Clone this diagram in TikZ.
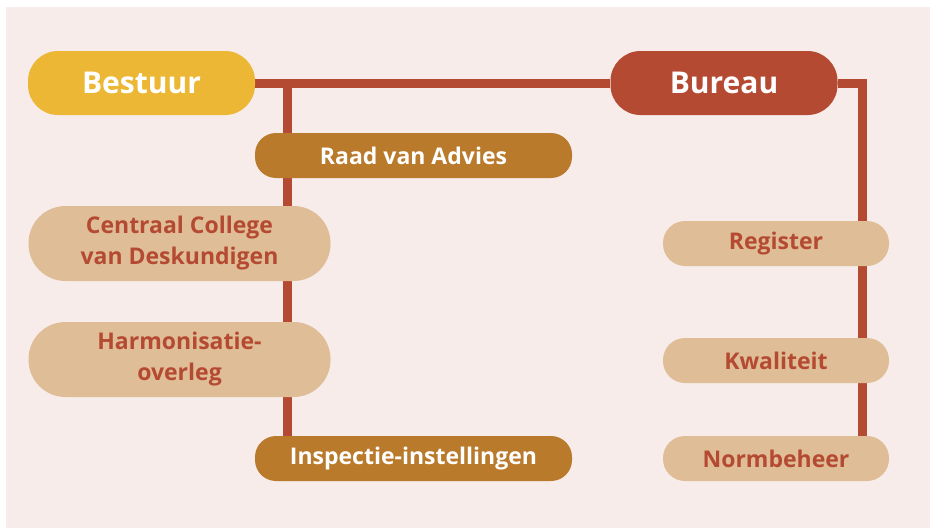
\documentclass[tikz,border=0pt]{standalone}
\usepackage{fontspec}
\setmainfont{Open Sans}
\usetikzlibrary{backgrounds}
\definecolor{achtergrond}{HTML}{F7ECEA}
\definecolor{geel}{HTML}{ECB735}
\definecolor{rood}{HTML}{B54A32}
\definecolor{oker}{HTML}{B97A2C}
\definecolor{zand}{HTML}{DFBD96}
\tikzset{
  hoofd/.style={rounded corners=30pt, minimum width=227pt, minimum height=64pt,
    text=white, font=\fontsize{30}{34}\selectfont\bfseries, inner sep=0pt},
  middel/.style={rounded corners=21pt, minimum width=317pt, minimum height=45pt,
    fill=oker, text=white, font=\fontsize{23}{27}\selectfont\bfseries, inner sep=0pt},
  licht/.style={rounded corners=22pt, fill=zand, text=rood, inner sep=0pt,
    font=\fontsize{23}{31}\selectfont\bfseries, align=center},
  lijn/.style={draw=rood, line width=9pt}
}
\begin{document}
\begin{tikzpicture}[x=1pt, y=-1pt]
\useasboundingbox (0,0) rectangle (930,528);
\node (bestuur)[hoofd, fill=geel] at (141.5,83) {Bestuur};
\node (bureau)[hoofd, fill=rood] at (724,83) {Bureau};
\node (raad)[middel] at (413.5,155.5) {Raad van Advies};
\node (inspectie)[middel] at (413.5,458.5) {Inspectie-instellingen};
\node (college)[licht, rounded corners=37pt, minimum width=302pt, minimum height=75pt] at (179.5,243.5) {Centraal College\\van Deskundigen};
\node (overleg)[licht, rounded corners=37pt, minimum width=302pt, minimum height=75pt] at (179.5,359.5) {Harmonisatie-\\overleg};
\node (register)[licht, minimum width=226pt, minimum height=45pt] at (776,243.5) {Register};
\node (kwaliteit)[licht, minimum width=226pt, minimum height=45pt] at (776,360.5) {Kwaliteit};
\node (normbeheer)[licht, minimum width=226pt, minimum height=45pt] at (776,458.5) {Normbeheer};
\coordinate (stam) at (287,83);
\coordinate (hoek) at (862,83);
\begin{scope}[on background layer]
\fill[achtergrond] (6,7) rectangle (930,528);
\draw[lijn] (bestuur.east) -- (bureau.west);
\draw[lijn] (stam) -- (stam |- inspectie.north);
\draw[lijn] (bureau.east) -- (hoek) -- (hoek |- normbeheer.north);
\end{scope}
\end{tikzpicture}
\end{document}
